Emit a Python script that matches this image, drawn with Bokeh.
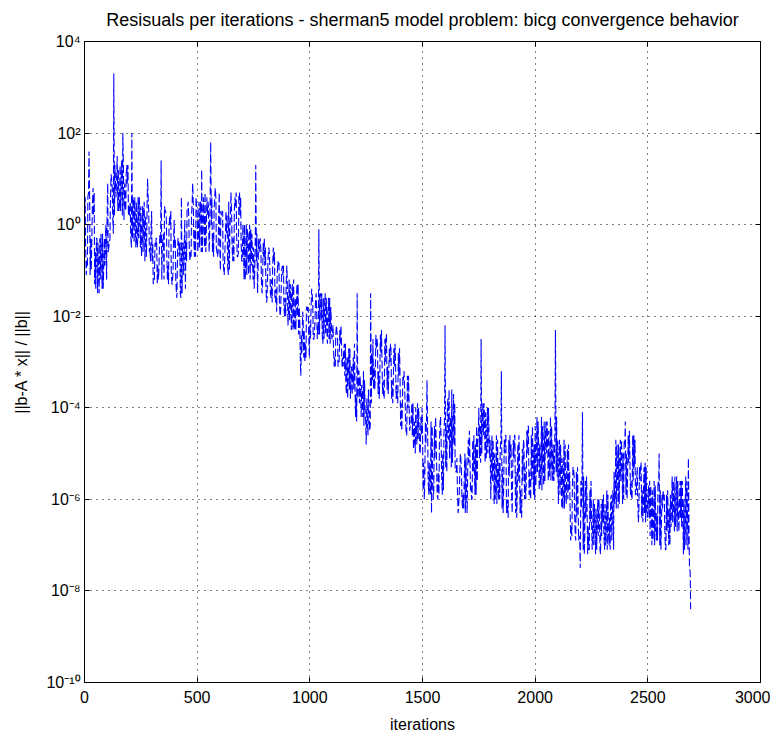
from bokeh.plotting import figure
from bokeh.models import (Range1d, FixedTicker, CustomJSTickFormatter, LinearAxis, LogAxis)
from bokeh.embed import file_html
from bokeh.resources import INLINE

# log10 of relative residual, at iterations 0, 10, 20, ...
log_resid_0 = [
    0.3, -0.8, 1.6, -1.0, 0.2,
    -1.4, -0.4, -1.2, -0.2, -0.9,
    0.1, -0.4, 1.0, 3.3, 0.6,
    1.2, 0.3, 2.0, 0.5, 0.9,
    0.2, 2.0, -0.4, 0.5, -0.3,
    0.4, -0.6, 0.2, 1.0, -0.5,
    -0.8, -1.2, -0.3, -1.0, 1.4,
    -0.2, 0.3, -0.9, 0.0, -1.3,
    -0.5, -1.6, -0.7, 0.6, -1.1,
    -0.3, 0.5, -0.6, 0.9, -0.1,
    0.3, -0.5, 1.2, 0.0, -0.4,
    0.4, 1.8, -0.2, 0.8, -0.7,
    -0.4, 0.2, -1.1, -0.2, 0.5,
    0.7, -0.3, 0.4, -0.7, 0.2,
    -0.8, 0.0, -1.1, -0.4, -0.9,
    -0.5, 1.3, -1.0, -0.3, -1.4,
    -0.9, -1.6, -0.6, -1.2, -0.8,
    -1.4, -0.9, -1.9, -1.1, -1.6,
    -1.3, -2.1, -1.5, -2.2, -1.7,
    -2.4, -3.3, -2.0, -2.6, -1.9,
    -2.2, -1.5, -2.4, -1.8, -0.1,
    -2.1, -1.6, -2.4, -1.9, -2.6,
    -2.4, -2.9, -2.3, -3.0, -2.5,
    -2.8, -3.5, -3.0, -3.8, -3.2,
    -3.4, -1.5, -3.9, -3.5, -4.4,
    -4.8, -3.6, -1.5, -2.5, -3.4,
    -2.6, -3.5, -2.9, -3.8, -2.4,
    -3.3, -2.7, -3.6, -2.9, -3.9,
    -3.2, -4.1, -3.5, -4.6, -3.8,
    -4.2, -4.9, -4.0, -4.7, -5.0,
    -4.5, -5.6, -3.4, -5.2, -6.3,
    -5.8, -4.6, -5.4, -4.2, -5.0,
    -2.2, -4.0, -5.1, -3.6, -4.8,
    -5.4, -6.2, -5.1, -5.9, -6.3,
    -5.6, -4.9, -6.0, -5.3, -4.4,
    -4.0, -2.5, -4.6, -4.1, -5.0,
    -4.7, -5.6, -5.0, -6.1, -5.2,
    -3.2, -5.8, -4.6, -6.4, -5.1,
    -5.5, -4.6, -6.0, -5.0, -6.4,
    -4.8, -5.7, -4.4, -6.0, -5.2,
    -4.4, -5.4, -4.8, -5.8, -4.3,
    -5.0, -4.5, -5.6, -4.8, -2.3,
    -4.7, -5.9, -5.1, -6.2, -5.5,
    -5.8, -6.6, -5.3, -6.9, -6.0,
    -7.5, -4.1, -6.8, -6.0, -7.1,
    -6.4, -7.0, -6.2, -6.8, -7.2,
    -6.5, -6.1, -7.1, -6.4, -6.9,
    -5.4, -6.2, -4.8, -5.6, -5.0,
    -4.3, -5.5, -5.0, -6.0, -5.3,
    -5.7, -6.3, -5.2, -6.0, -6.5,
    -6.0, -6.8, -5.8, -7.0, -6.3,
    -5.0, -6.6, -6.0, -7.1, -6.4,
    -5.9, -6.5, -5.5, -6.7, -6.1,
    -6.6, -6.0, -7.0, -5.1, -8.4,
]
# at iterations 3, 13, 23, ...
log_resid_3 = [
    0.6, -0.9, 0.5, -0.2, 0.7,
    -0.3, -1.1, -0.2, -1.4, -0.3,
    0.9, -0.3, 0.8, 0.2, 1.1,
    0.3, 1.0, 1.2, 0.3, 1.3,
    0.5, -0.3, 0.6, -0.4, 0.6,
    -0.7, 0.3, -0.4, 0.5, -0.8,
    -0.4, -0.4, -1.3, -0.4, -1.2,
    -1.2, 0.2, -1.3, 0.3, -1.0,
    -0.3, -0.6, -0.4, -1.5, -0.4,
    -0.8, 0.1, -0.7, 0.4, -0.7,
    -0.6, 0.4, -0.6, -0.5, 0.6,
    -0.6, 0.0, -0.7, 0.6, -0.6,
    -1.0, 0.3, -0.6, 0.2, -1.0,
    0.2, -0.8, 0.7, -0.6, 0.6,
    0.0, -1.2, -0.1, 0.0, -0.2,
    -1.4, -0.8, -0.3, -0.6, -0.4,
    -0.5, -1.0, -1.0, -1.7, -0.6,
    -1.9, -0.8, -1.4, -0.9, -2.0,
    -2.2, -1.3, -1.3, -2.3, -1.3,
    -1.8, -2.4, -2.9, -2.9, -1.8,
    -2.5, -1.7, -2.1, -2.5, -2.4,
    -1.5, -2.5, -1.6, -1.6, -1.8,
    -2.2, -3.1, -2.5, -2.3, -3.1,
    -2.6, -3.7, -2.7, -3.4, -2.9,
    -4.2, -3.8, -3.3, -3.8, -3.4,
    -3.8, -4.1, -3.9, -3.6, -2.4,
    -3.7, -2.4, -3.7, -2.5, -3.6,
    -2.7, -3.8, -2.7, -3.8, -2.8,
    -4.4, -3.3, -3.9, -3.3, -4.5,
    -3.9, -4.7, -4.5, -4.0, -4.2,
    -5.8, -4.3, -4.6, -5.8, -4.4,
    -4.4, -5.3, -5.9, -4.8, -5.8,
    -5.3, -3.8, -4.4, -5.2, -3.9,
    -5.1, -5.9, -5.4, -6.2, -5.1,
    -4.7, -5.8, -4.7, -5.9, -5.6,
    -5.1, -5.0, -3.9, -5.1, -4.0,
    -6.0, -4.7, -6.0, -4.7, -6.0,
    -6.2, -4.7, -6.3, -4.7, -4.8,
    -4.7, -6.3, -4.8, -6.3, -4.9,
    -6.0, -4.5, -5.9, -4.6, -5.9,
    -5.7, -4.3, -5.7, -4.4, -5.6,
    -4.3, -5.5, -4.4, -5.6, -5.4,
    -6.1, -4.8, -6.2, -4.8, -4.9,
    -5.4, -6.8, -5.5, -5.4, -6.9,
    -5.6, -7.1, -5.6, -7.2, -5.8,
    -7.1, -6.1, -7.1, -6.0, -6.1,
    -5.9, -7.0, -5.9, -7.1, -6.2,
    -6.1, -4.8, -6.1, -4.7, -6.0,
    -5.9, -4.6, -5.9, -4.6, -4.7,
    -5.3, -5.3, -6.4, -5.3, -5.3,
    -5.7, -5.7, -6.9, -5.7, -6.9,
    -7.0, -5.9, -5.9, -5.9, -7.0,
    -6.6, -5.6, -6.6, -5.6, -5.6,
    -5.6, -7.1, -5.6, -6.8,
]
# at iterations 5, 15, 25, ...
log_resid_5 = [
    -0.5, 0.6, -1.1, 0.4, -1.3,
    -0.3, -1.5, -0.6, -1.0, 0.0,
    -0.6, 0.5, 0.2, 1.3, 1.5,
    0.4, 1.4, 0.1, 1.1, 0.2,
    -0.2, 0.6, 0.1, -0.5, 0.4,
    -0.3, 0.5, -0.7, 0.3, -0.2,
    -1.3, -0.5, -0.9, -0.2, -0.6,
    0.4, -0.6, -0.1, -1.0, -0.4,
    -1.2, -0.3, -1.5, -0.4, 0.1,
    0.3, -0.5, 0.2, -0.3, 0.6,
    -0.2, 0.5, -0.1, 0.7, 0.2,
    -0.3, 0.6, 0.3, -0.5, 0.1,
    0.3, -0.8, -0.3, -0.9, -0.1,
    -0.5, 0.3, -0.2, 0.6, -0.4,
    -0.3, -0.9, -0.2, -1.2, -0.6,
    -1.1, -0.2, -0.6, -1.2, -0.7,
    -1.3, -0.7, -1.5, -0.9, -1.6,
    -1.1, -1.7, -1.0, -1.8, -1.3,
    -1.9, -1.4, -2.3, -1.6, -2.0,
    -2.0, -2.8, -2.3, -1.8, -2.4,
    -1.9, -2.5, -1.7, -2.2, -1.6,
    -2.4, -1.8, -2.2, -2.5, -2.1,
    -2.7, -2.4, -3.1, -2.6, -2.9,
    -3.3, -2.9, -3.6, -3.1, -3.6,
    -3.7, -3.2, -3.6, -4.2, -4.0,
    -4.2, -4.5, -2.8, -3.1, -2.7,
    -3.2, -2.8, -3.4, -3.0, -3.1,
    -3.0, -3.4, -3.1, -3.5, -3.3,
    -3.9, -3.4, -4.3, -4.0, -4.4,
    -4.6, -4.3, -4.8, -4.4, -4.6,
    -5.2, -4.8, -5.6, -5.9, -5.5,
    -5.1, -5.9, -4.8, -5.5, -4.6,
    -4.4, -4.7, -4.2, -4.5, -5.3,
    -5.8, -5.5, -6.0, -5.6, -5.8,
    -5.2, -5.7, -5.4, -4.8, -4.7,
    -4.4, -4.3, -4.2, -4.8, -4.5,
    -5.3, -5.1, -5.7, -5.5, -4.9,
    -5.3, -5.0, -6.0, -5.5, -5.8,
    -5.1, -5.4, -5.6, -5.8, -5.6,
    -5.3, -5.0, -5.4, -5.6, -4.8,
    -5.0, -4.7, -5.3, -5.0, -4.8,
    -4.7, -5.2, -5.0, -5.3, -4.2,
    -5.3, -5.4, -5.8, -5.7, -6.0,
    -6.2, -5.8, -6.3, -6.4, -6.8,
    -6.2, -5.5, -6.4, -6.6, -6.5,
    -6.7, -6.5, -6.6, -6.4, -6.8,
    -6.8, -6.6, -6.7, -6.0, -5.8,
    -5.9, -5.2, -5.3, -5.1, -4.7,
    -5.0, -5.2, -5.6, -5.6, -5.9,
    -6.0, -5.6, -5.8, -6.3, -6.2,
    -6.4, -6.2, -6.5, -6.6, -5.6,
    -5.8, -6.2, -6.6, -6.7, -6.2,
    -6.2, -6.0, -6.1, -6.3, -6.4,
    -6.3, -6.5, -6.0, -7.5,
]
# at iterations 8, 18, 28, ...
log_resid_8 = [
    -1.1, 0.7, -0.3, 0.8, -0.6,
    -1.5, -0.3, -1.4, -0.3, -1.2,
    -0.5, 1.1, -0.2, 0.9, 0.3,
    1.3, 0.2, 0.9, 1.3, 0.4,
    -0.5, 0.5, -0.5, 0.6, -0.5,
    0.4, -0.8, 0.5, -0.6, 0.3,
    -1.2, -0.3, -1.2, -0.4, -0.3,
    0.3, -1.2, 0.2, -1.3, 0.1,
    -1.5, -0.3, -1.6, -0.4, -1.4,
    0.4, -0.8, 0.5, -0.7, 0.4,
    0.5, -0.6, 0.6, -0.6, 0.5,
    0.7, -0.6, 0.6, -0.6, 0.7,
    0.2, -1.0, 0.3, -1.1, 0.2,
    -0.8, 0.6, -0.7, 0.7, -0.8,
    -1.2, 0.0, -1.1, -0.1, -1.2,
    -0.3, -1.5, -0.4, -1.5, -0.3,
    -1.7, -0.5, -1.6, -0.5, -1.7,
    -0.8, -2.0, -0.9, -2.0, -0.9,
    -1.2, -2.3, -1.2, -2.3, -1.3,
    -3.0, -1.9, -3.0, -1.8, -2.9,
    -1.4, -2.5, -1.5, -2.4, -1.5,
    -2.6, -1.5, -2.6, -1.6, -2.5,
    -3.1, -2.2, -3.0, -2.2, -3.1,
    -2.6, -3.8, -2.7, -3.7, -2.6,
    -4.3, -3.2, -4.2, -3.2, -4.3,
    -4.6, -4.4, -3.4, -3.6, -2.5,
    -3.8, -2.3, -3.8, -2.4, -3.7,
    -2.6, -3.9, -2.6, -3.8, -2.7,
    -4.5, -3.2, -4.6, -3.3, -4.4,
    -3.9, -5.0, -3.9, -5.0, -4.0,
    -6.0, -4.2, -5.9, -4.3, -6.0,
    -4.2, -6.0, -4.3, -5.9, -4.2,
    -5.4, -3.6, -5.3, -3.7, -5.4,
    -6.3, -5.0, -6.2, -5.0, -6.3,
    -4.5, -6.0, -4.6, -5.9, -4.5,
    -5.2, -3.9, -5.2, -4.0, -5.1,
    -4.6, -6.1, -4.6, -6.0, -4.7,
    -6.3, -4.6, -6.2, -4.6, -6.3,
    -4.6, -6.4, -4.6, -6.3, -4.7,
    -6.0, -4.4, -5.9, -4.4, -6.0,
    -4.2, -5.8, -4.2, -5.7, -4.3,
    -5.6, -4.2, -5.6, -4.3, -5.5,
    -4.7, -6.2, -4.7, -6.1, -4.8,
    -6.9, -5.3, -6.8, -5.3, -6.9,
    -5.5, -7.2, -5.5, -7.1, -5.6,
    -6.0, -7.2, -6.0, -7.1, -6.0,
    -7.1, -5.8, -7.0, -5.9, -7.1,
    -4.7, -6.2, -4.7, -6.1, -4.8,
    -6.0, -4.5, -6.0, -4.6, -5.9,
    -6.5, -5.2, -6.5, -5.2, -6.4,
    -5.6, -7.0, -5.6, -6.9, -5.7,
    -7.1, -5.8, -7.1, -5.8, -7.0,
    -5.5, -6.7, -5.5, -6.7, -5.6,
    -7.2, -5.5, -7.1, -7.6,
]

iterations = []
residuals = []
for i, v in enumerate(log_resid_0):
    for off, arr in ((0, log_resid_0), (3, log_resid_3), (5, log_resid_5), (8, log_resid_8)):
        if i < len(arr):
            iterations.append(10 * i + off)
            residuals.append(10.0 ** arr[i])

x_ticks = [0, 500, 1000, 1500, 2000, 2500, 3000]
y_ticks = [1e-10, 1e-8, 1e-6, 1e-4, 1e-2, 1e0, 1e2, 1e4]

title_text = "Resisuals per iterations - sherman5 model problem: bicg convergence behavior"
x_label = "iterations"
y_label = "||b-A * x|| / ||b||"

FONT = "Liberation Sans"

p = figure(frame_width=676, frame_height=641,
           y_axis_type="log", x_range=Range1d(0, 3000), y_range=Range1d(1e-10, 1e4),
           output_backend="svg", toolbar_location=None,
           min_border_left=84, min_border_top=40, min_border_right=10, min_border_bottom=45)
p.background_fill_color = "white"
p.border_fill_color = "white"
p.outline_line_color = "black"
p.outline_line_width = 1

p.title.text = title_text
p.title.align = "center"
p.title.vertical_align = "top"
p.title.text_font = FONT
p.title.text_font_size = "18px"
p.title.text_font_style = "normal"
p.title.text_color = "black"
p.title.standoff = 19

sup = """
const m = {'-':'\u207b','0':'\u2070','1':'\u00b9','2':'\u00b2','3':'\u00b3','4':'\u2074','5':'\u2075','6':'\u2076','7':'\u2077','8':'\u2078','9':'\u2079'};
const e = Math.round(Math.log10(tick));
return '10' + String(e).split('').map(c => m[c]).join('');
"""

xa = p.xaxis[0]
xa.ticker = FixedTicker(ticks=x_ticks)
xa.axis_label = x_label
ya = p.yaxis[0]
ya.ticker = FixedTicker(ticks=y_ticks)
ya.formatter = CustomJSTickFormatter(code=sup)
ya.axis_label = y_label
ya.major_label_standoff = 4
ya.axis_label_standoff = 13

for ax in (xa, ya):
    ax.axis_line_color = "black"
    ax.major_tick_in = 5
    ax.major_tick_out = 0
    ax.minor_tick_line_color = None
    ax.major_label_text_font = FONT
    ax.major_label_text_font_size = "16px"
    ax.major_label_text_color = "black"
    ax.axis_label_text_font = FONT
    ax.axis_label_text_font_size = "16px"
    ax.axis_label_text_font_style = "normal"
    ax.axis_label_text_color = "black"
xa.major_label_standoff = 8
xa.axis_label_standoff = 10

top = LinearAxis(ticker=FixedTicker(ticks=x_ticks), formatter=CustomJSTickFormatter(code="return ''"))
right = LogAxis(ticker=FixedTicker(ticks=y_ticks), formatter=CustomJSTickFormatter(code="return ''"))
for ax in (top, right):
    ax.major_tick_in = 5
    ax.major_tick_out = 0
    ax.minor_tick_line_color = None
    ax.major_label_standoff = 0
    ax.axis_line_color = "black"
p.add_layout(top, "above")
p.add_layout(right, "right")

for g in (p.xgrid[0], p.ygrid[0]):
    g.grid_line_color = "black"
    g.grid_line_dash = "1 5"
    g.grid_line_width = 1
p.xgrid[0].ticker = FixedTicker(ticks=x_ticks)
p.ygrid[0].ticker = FixedTicker(ticks=y_ticks)

p.line(iterations, residuals, line_color="#0000ff", line_width=1.1, line_dash="8 3")

open("out.html", "w").write(file_html(p, INLINE))
